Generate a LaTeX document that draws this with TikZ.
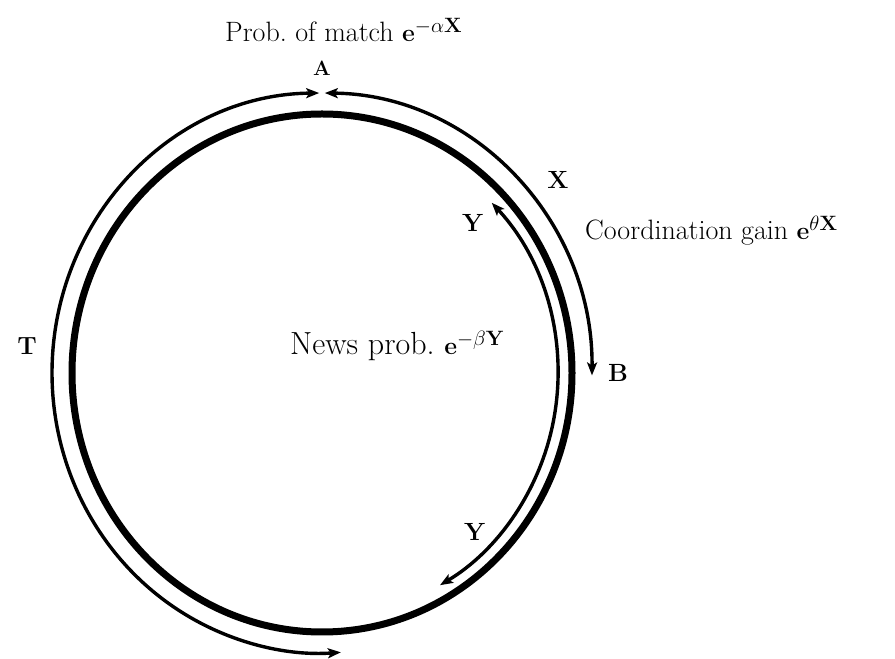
\documentclass[tikz,border=0pt]{standalone}
\usepackage{amsmath}
\usetikzlibrary{arrows.meta}
\begin{document}
\begin{tikzpicture}[x=1pt,y=1pt,
  thickring/.style={line width=7pt},
  flow/.style={line width=3.4pt,{Stealth[length=13pt,width=10pt,inset=3pt]}-{Stealth[length=13pt,width=10pt,inset=3pt]}},
  lbl/.style={inner sep=0pt,font=\fontsize{28}{32}\selectfont},
  txt/.style={inner sep=0pt,anchor=base west}]
\path[use as bounding box] (0,0) rectangle (895,659);
\coordinate (O) at (322,286);
% main thick ring
\draw[thickring] (O) ellipse [x radius=250, y radius=259];
% outer arcs
\draw[flow] ([shift={(90.6:270 and 280)}]O) arc[start angle=90.6, end angle=274, x radius=270, y radius=280];
\draw[flow] ([shift={(89.4:270 and 280)}]O) arc[start angle=89.4, end angle=-0.5, x radius=270, y radius=280];
% inner arc
\draw[flow] ([shift={(44:236 and 245)}]O) arc[start angle=44, end angle=-60, x radius=236, y radius=245];
% labels
\node[txt,font=\fontsize{28}{34}\selectfont] (pm) at (225,617) {Prob.\ of match $\mathbf{e}^{-\alpha\mathbf{X}}$};
\node[lbl,font=\fontsize{22}{26}\selectfont] (A) at (322,591) {$\mathbf{A}$};
\node[lbl] (X) at (558,479) {$\mathbf{X}$};
\node[lbl] (Y1) at (473,436) {$\mathbf{Y}$};
\node[txt,font=\fontsize{28}{33}\selectfont] (cg) at (585,419) {Coordination gain $\mathbf{e}^{\theta\mathbf{X}}$};
\node[lbl] (T) at (27,313) {$\mathbf{T}$};
\node[txt,font=\fontsize{32}{38}\selectfont] (np) at (290,304) {News prob.\ $\mathbf{e}^{-\beta\mathbf{Y}}$};
\node[lbl,font=\fontsize{26}{31}\selectfont] (B) at (618,286) {$\mathbf{B}$};
\node[lbl] (Y2) at (475,127) {$\mathbf{Y}$};
\end{tikzpicture}
\end{document}
